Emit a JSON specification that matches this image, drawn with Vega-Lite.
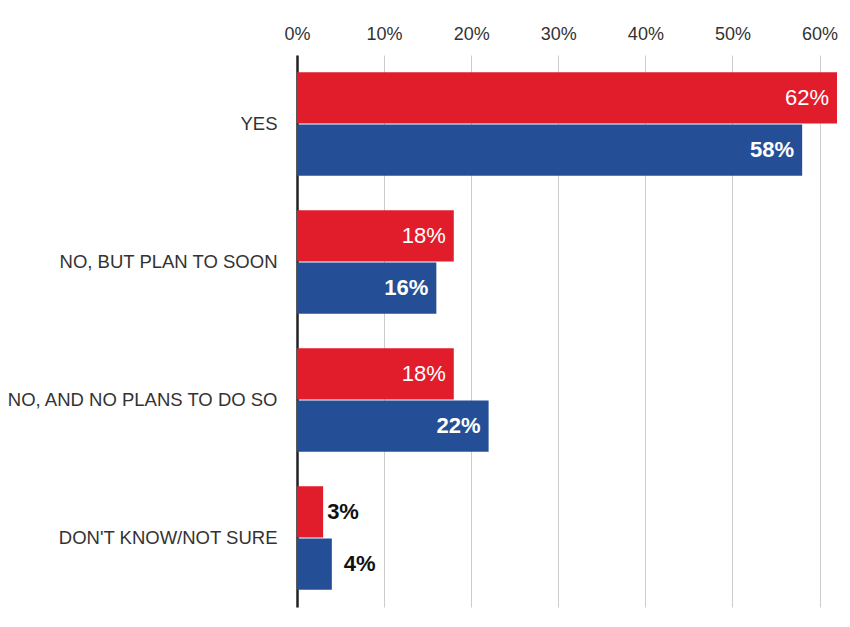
{
  "$schema": "https://vega.github.io/schema/vega-lite/v6.json",
  "autosize": {"type": "none"},
  "padding": {"left": 297, "top": 55, "right": 13, "bottom": 20},
  "width": 540,
  "height": 552,
  "background": "white",
  "config": {
    "view": {"stroke": null},
    "font": "Liberation Sans"
  },
  "data": {
    "values": [
      {"answer": "YES", "series": "Series 1", "value": 0.62},
      {"answer": "YES", "series": "Series 2", "value": 0.58},
      {"answer": "NO, BUT PLAN TO SOON", "series": "Series 1", "value": 0.18},
      {"answer": "NO, BUT PLAN TO SOON", "series": "Series 2", "value": 0.16},
      {"answer": "NO, AND NO PLANS TO DO SO", "series": "Series 1", "value": 0.18},
      {"answer": "NO, AND NO PLANS TO DO SO", "series": "Series 2", "value": 0.22},
      {"answer": "DON'T KNOW/NOT SURE", "series": "Series 1", "value": 0.03},
      {"answer": "DON'T KNOW/NOT SURE", "series": "Series 2", "value": 0.04}
    ]
  },
  "encoding": {
    "y": {
      "field": "answer", "type": "nominal", "sort": null, "title": null,
      "scale": {"paddingInner": 0.25, "paddingOuter": 0.125},
      "axis": {
        "ticks": false, "labelPadding": 20, "labelFontSize": 18.5, "labelColor": "#333333",
        "domainColor": "#222222", "domainWidth": 2.5, "labelLimit": 400
      }
    },
    "yOffset": {"field": "series", "type": "nominal", "sort": ["Series 1", "Series 2"], "scale": {"paddingInner": 0.02}},
    "x": {
      "field": "value", "type": "quantitative", "title": null,
      "scale": {"domain": [0, 0.62], "nice": false},
      "axis": {
        "orient": "top", "values": [0, 0.1, 0.2, 0.3, 0.4, 0.5, 0.6],
        "format": ".0%", "ticks": false, "domain": false,
        "grid": true, "gridColor": "#cccccc", "gridWidth": 1,
        "labelFontSize": 18, "labelColor": "#333333", "labelPadding": 12,
        "labelFlush": false
      }
    }
  },
  "layer": [
    {
      "mark": {"type": "bar"},
      "encoding": {
        "color": {
          "field": "series", "type": "nominal", "legend": null,
          "scale": {"domain": ["Series 1", "Series 2"], "range": ["#e11d2b", "#244f97"]}
        }
      }
    },
    {
      "transform": [{"filter": "datum.value >= 0.1 && datum.series == 'Series 1'"}],
      "mark": {"type": "text", "align": "right", "baseline": "middle", "dx": -8, "fontSize": 22, "color": "white", "fontWeight": "normal"},
      "encoding": {"text": {"field": "value", "type": "quantitative", "format": ".0%"}}
    },
    {
      "transform": [{"filter": "datum.value >= 0.1 && datum.series == 'Series 2'"}],
      "mark": {"type": "text", "align": "right", "baseline": "middle", "dx": -8, "fontSize": 22, "color": "white", "fontWeight": "bold"},
      "encoding": {"text": {"field": "value", "type": "quantitative", "format": ".0%"}}
    },
    {
      "transform": [{"filter": "datum.value < 0.1 && datum.series == 'Series 1'"}],
      "mark": {"type": "text", "align": "left", "baseline": "middle", "dx": 4, "fontSize": 22, "color": "#111111", "fontWeight": "bold"},
      "encoding": {"text": {"field": "value", "type": "quantitative", "format": ".0%"}}
    },
    {
      "transform": [{"filter": "datum.value < 0.1 && datum.series == 'Series 2'"}],
      "mark": {"type": "text", "align": "left", "baseline": "middle", "dx": 12, "fontSize": 22, "color": "#111111", "fontWeight": "bold"},
      "encoding": {"text": {"field": "value", "type": "quantitative", "format": ".0%"}}
    }
  ]
}
